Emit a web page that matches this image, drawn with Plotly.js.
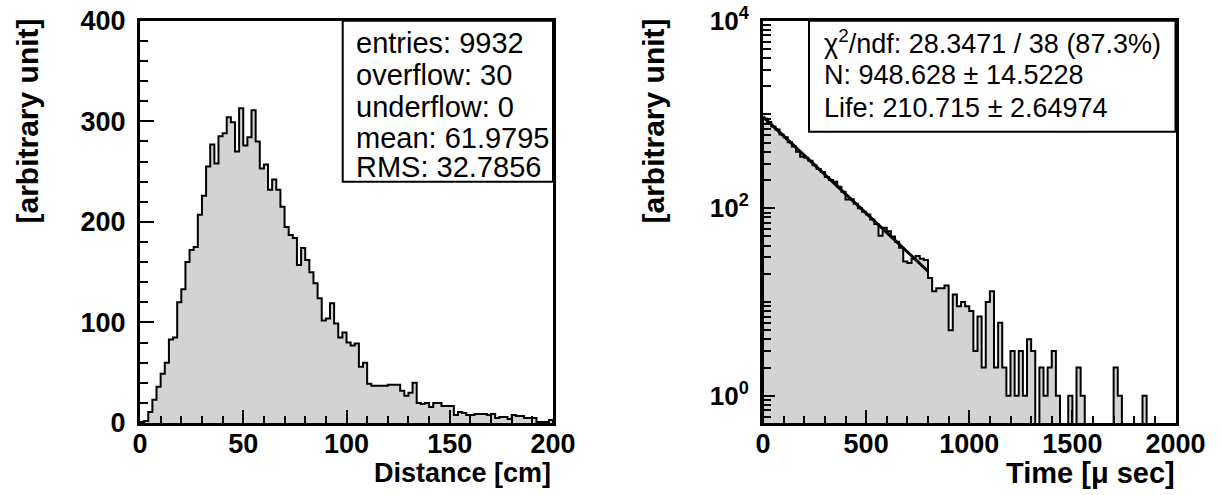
<!DOCTYPE html>
<html><head><meta charset="utf-8">
<script src="https://cdn.plot.ly/plotly-3.0.1.min.js"></script>
<style>html,body{margin:0;padding:0;background:#fff;} #chart{width:1221px;height:495px;}</style>
</head><body><div id="chart"></div>
<script>
// ---- data ----
const distLimits = [0, 200];          // cm, 100 bins
const distCounts = [
  1, 2, 11, 23, 36, 49, 60, 83, 85, 120,
  133, 160, 172, 175, 207, 226, 255, 277, 258, 285,
  288, 304, 299, 270, 313, 276, 284, 311, 280, 253,
  257, 232, 242, 232, 215, 195, 187, 184, 157, 174,
  162, 150, 139, 124, 102, 104, 119, 99, 85, 90,
  80, 77, 79, 56, 60, 39, 37, 37, 37, 37,
  38, 38, 38, 32, 27, 30, 40, 20, 19, 20,
  16, 20, 20, 17, 17, 17, 8, 11, 10, 8,
  8, 9, 9, 9, 8, 9, 5, 6, 6, 4,
  8, 7, 7, 5, 5, 5, 1, 1, 1, 3
];
const timeLimits = [0, 2000];         // micro sec, 100 bins
const timeCounts = [
  900, 830, 745, 690, 610, 570, 505, 455, 400, 355,
  345, 322, 288, 262, 243, 215, 200, 192, 170, 150,
  124, 125, 112, 100, 92, 86, 76, 68, 51, 62,
  57, 50, 44, 38, 27, 26, 29, 31, 29, 28,
  18, 13, 14, 14, 15, 5, 12, 9, 10, 9,
  8, 3, 7, 2, 10, 13, 2, 6, 2, 1,
  3, 1, 3, 1, 4, 3, 0, 2, 1, 2,
  3, 1, 0, 0, 1, 0, 2, 1, 0, 0,
  0, 0, 0, 0, 0, 2, 1, 0, 0, 0,
  0, 0, 1, 0, 0, 0, 0, 0, 0, 0
];
const fitTime = [0, 800];
const fitValue = [948.6, 21.3];
const leftStats = ["entries: 9932", "overflow: 30", "underflow: 0", "mean: 61.9795", "RMS: 32.7856"];
const rightStats = ["χ<sup>2</sup>/ndf: 28.3471 / 38 (87.3%)", "N: 948.628 ± 14.5228", "Life: 210.715 ± 2.64974"];
const leftXTitle = "Distance [cm]";
const rightXTitle = "Time [μ sec]";
const yTitle = "[arbitrary unit]";

// ---- helpers ----
const W = 1221, H = 495;
const px = v => v / W;
const py = v => 1 - v / H;

function stepOutline(counts, limits, floor) {
  const w = (limits[1] - limits[0]) / counts.length;
  const xs = [limits[0]], ys = [floor];
  counts.forEach((c, i) => {
    const v = Math.max(c, floor);
    xs.push(limits[0] + i * w, limits[0] + (i + 1) * w);
    ys.push(v, v);
  });
  xs.push(limits[1]); ys.push(floor);
  return { xs, ys };
}

const left = stepOutline(distCounts, distLimits, 0);
const right = stepOutline(timeCounts, timeLimits, 0.1);

const FILL = '#d3d3d3';
const traces = [
  { x: left.xs, y: left.ys, xaxis: 'x', yaxis: 'y', mode: 'lines', fill: 'toself', fillcolor: FILL,
    line: { color: '#000', width: 2 }, hoverinfo: 'skip' },
  { x: right.xs, y: right.ys, xaxis: 'x2', yaxis: 'y2', mode: 'lines', fill: 'toself', fillcolor: FILL,
    line: { color: '#000', width: 2 }, hoverinfo: 'skip' },
  { x: fitTime, y: fitValue, xaxis: 'x2', yaxis: 'y2', mode: 'lines',
    line: { color: '#000', width: 3 }, hoverinfo: 'skip' }
];

const BOLD = 'Liberation Sans';
const tickFont = { family: BOLD, size: 27, color: '#000', weight: 'bold' };
const axisBase = {
  showline: true, mirror: true, linewidth: 3, linecolor: '#000',
  ticks: 'inside', tickwidth: 2, tickcolor: '#000',
  showgrid: false, zeroline: false, tickfont: tickFont, fixedrange: true
};

const yDomain = [py(423), py(20.7)];
const logMinor = [];
[0.1, 1, 10, 100, 1000].forEach(d => { for (let m = 2; m <= 9; m++) logMinor.push(d * m); });
logMinor.push(10, 1000);

const layout = {
  width: W, height: H, margin: { l: 0, r: 0, t: 0, b: 0 },
  paper_bgcolor: '#fff', plot_bgcolor: '#fff', showlegend: false,
  xaxis: Object.assign({}, axisBase, {
    domain: [px(140), px(553)], anchor: 'y', range: distLimits, tick0: 0, dtick: 50,
    ticklen: 13, ticklabelstandoff: -5,
    minor: { ticks: 'inside', dtick: 10, ticklen: 7, tickwidth: 2, tickcolor: '#000' }
  }),
  yaxis: Object.assign({}, axisBase, {
    domain: yDomain, anchor: 'x', range: [0, 400], tick0: 0, dtick: 100,
    ticklen: 14, ticklabelstandoff: 6,
    minor: { ticks: 'inside', dtick: 20, ticklen: 8, tickwidth: 2, tickcolor: '#000' }
  }),
  xaxis2: Object.assign({}, axisBase, {
    domain: [px(763), px(1175.5)], anchor: 'y2', range: timeLimits, tick0: 0, dtick: 500,
    ticklen: 13, ticklabelstandoff: -5,
    minor: { ticks: 'inside', dtick: 100, ticklen: 7, tickwidth: 2, tickcolor: '#000' }
  }),
  yaxis2: Object.assign({}, axisBase, {
    domain: yDomain, anchor: 'x2', type: 'log', range: [-0.29, 4],
    tickmode: 'array', tickvals: [1, 100, 10000],
    ticktext: ['10<sup>0</sup>', '10<sup>2</sup>', '10<sup>4</sup>'],
    ticklen: 12, ticklabelstandoff: 6,
    tickfont: { family: BOLD, size: 26, color: '#000', weight: 'bold' },
    minor: { ticks: 'inside', tickmode: 'array', tickvals: logMinor, ticklen: 8, tickwidth: 2, tickcolor: '#000' }
  }),
  shapes: [
    { type: 'rect', xref: 'paper', yref: 'paper', x0: px(342.7), x1: px(553), y0: py(181.7), y1: py(20.7),
      line: { color: '#000', width: 2 }, fillcolor: '#fff', layer: 'above' },
    { type: 'rect', xref: 'paper', yref: 'paper', x0: px(809), x1: px(1175.5), y0: py(131.7), y1: py(20.7),
      line: { color: '#000', width: 2 }, fillcolor: '#fff', layer: 'above' }
  ],
  annotations: []
};

const statFontL = { family: 'Liberation Sans', size: 29, color: '#000' };
const statFontR = { family: 'Liberation Sans', size: 27, color: '#000' };
const leftRows = [43, 75, 106.7, 138, 167];
leftStats.forEach((t, i) => layout.annotations.push({
  text: t, xref: 'paper', yref: 'paper', x: px(354), y: py(leftRows[i]),
  xanchor: 'left', yanchor: 'middle', showarrow: false, font: statFontL
}));
const rightRows = [41.7, 75, 108];
rightStats.forEach((t, i) => layout.annotations.push({
  text: t, xref: 'paper', yref: 'paper', x: px(822), y: py(rightRows[i]),
  xanchor: 'left', yanchor: 'middle', showarrow: false, font: statFontR
}));

const titleFont = { family: BOLD, size: 27, color: '#000', weight: 'bold' };
layout.annotations.push(
  { text: leftXTitle, xref: 'paper', yref: 'paper', x: px(553), y: py(473), xanchor: 'right', yanchor: 'middle',
    showarrow: false, font: titleFont },
  { text: rightXTitle, xref: 'paper', yref: 'paper', x: px(1177), y: py(473), xanchor: 'right', yanchor: 'middle',
    showarrow: false, font: Object.assign({}, titleFont, { size: 29 }) },
  { text: yTitle, xref: 'paper', yref: 'paper', x: px(27), y: py(17), xanchor: 'center', yanchor: 'top',
    textangle: -90, showarrow: false, font: Object.assign({}, titleFont, { size: 30 }) },
  { text: yTitle, xref: 'paper', yref: 'paper', x: px(653), y: py(17), xanchor: 'center', yanchor: 'top',
    textangle: -90, showarrow: false, font: Object.assign({}, titleFont, { size: 30 }) }
);

Plotly.newPlot('chart', traces, layout, { staticPlot: true, displayModeBar: false });
</script>
</body></html>
